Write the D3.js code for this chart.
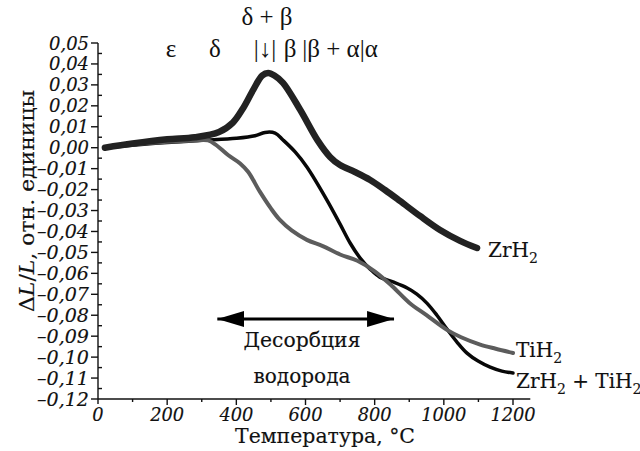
<!DOCTYPE html>
<html>
<head>
<meta charset="utf-8">
<script src="https://cdn.jsdelivr.net/npm/d3@7"></script>
<style>
  body { margin: 0; background: #fff; }
  svg { display: block; }
  text { font-family: "DejaVu Serif", serif; fill: #111; stroke: #111; stroke-width: 0.15px; }
  .tick-label { font-style: italic; font-size: 18.5px; }
  .greek { font-family: "Liberation Serif", serif; font-size: 25px; stroke-width: 0; }
</style>
</head>
<body>
<div id="chart"></div>
<script>
// Values (temperature, deg C -> dL/L).
var zrT   = [20, 100, 200, 280, 350, 390, 420, 450, 475, 492, 510, 535, 585, 635, 671, 700, 743, 787, 830, 873, 931, 989, 1047, 1096];
var zrV   = [0.000, 0.002, 0.004, 0.005, 0.0075, 0.012, 0.019, 0.028, 0.0345, 0.0357, 0.0345, 0.031, 0.018, 0.0035, -0.0044, -0.0083, -0.0116, -0.0154, -0.0202, -0.0254, -0.0326, -0.0393, -0.0445, -0.0479];

var mixT  = [20, 100, 200, 300, 400, 454, 483, 512, 535, 570, 604, 662, 700, 729, 758, 787, 815, 853, 894, 922, 951, 980, 1009, 1038, 1067, 1099, 1134, 1168, 1200];
var mixV  = [0.000, 0.0012, 0.0025, 0.0035, 0.0045, 0.0057, 0.0073, 0.007, 0.0037, -0.002, -0.0092, -0.025, -0.0365, -0.0455, -0.0527, -0.058, -0.0618, -0.0641, -0.067, -0.0699, -0.0742, -0.080, -0.0866, -0.0928, -0.0981, -0.1019, -0.1048, -0.1067, -0.1076];

var tiT   = [20, 100, 200, 280, 318, 340, 376, 411, 434, 468, 500, 526, 560, 604, 650, 700, 750, 800, 850, 900, 950, 1009, 1050, 1105, 1150, 1200];
var tiV   = [0.000, 0.0015, 0.0028, 0.0035, 0.0035, 0.0015, -0.0035, -0.0075, -0.0115, -0.021, -0.029, -0.0345, -0.0395, -0.044, -0.047, -0.051, -0.054, -0.059, -0.066, -0.074, -0.080, -0.087, -0.0905, -0.094, -0.096, -0.098];

var xTicks = [0, 200, 400, 600, 800, 1000, 1200];
var yTicks = [0.05, 0.04, 0.03, 0.02, 0.01, 0.00, -0.01, -0.02, -0.03, -0.04, -0.05, -0.06, -0.07, -0.08, -0.09, -0.10, -0.11, -0.12];

var width = 640, height = 451;

var svg = d3.select("#chart").append("svg")
    .attr("width", width)
    .attr("height", height);

// Scales: 0 deg at x=98, 1200 at x=513; 0.05 at y=43, -0.12 at y=399.
var x = d3.scaleLinear().domain([0, 1200]).range([98, 513]);
var y = d3.scaleLinear().domain([-0.12, 0.05]).range([399, 43]);

function fmt(v) {
  var s = Math.abs(v).toFixed(2).replace(".", ",");
  return (v < -1e-9 ? "\u2013" : "") + s;
}

// Axes lines
var axisG = svg.append("g").attr("stroke", "#111").attr("stroke-width", 1.4);
axisG.append("line")
    .attr("x1", x(0)).attr("x2", x(0))
    .attr("y1", y(0.05)).attr("y2", y(-0.12) + 5);
axisG.append("line")
    .attr("x1", x(0)).attr("x2", x(1250))
    .attr("y1", y(-0.12)).attr("y2", y(-0.12));

// y ticks: labelled ones to the left, half steps to the right
yTicks.forEach(function (v) {
  axisG.append("line")
      .attr("x1", x(0) - 7).attr("x2", x(0))
      .attr("y1", y(v)).attr("y2", y(v));
  if (v > -0.12) {
    axisG.append("line")
        .attr("x1", x(0)).attr("x2", x(0) + 4)
        .attr("y1", y(v - 0.005)).attr("y2", y(v - 0.005));
  }
});

// x ticks: major every 200, minor every 100, pointing down
d3.range(100, 1300, 100).forEach(function (t) {
  var major = t % 200 === 0;
  axisG.append("line")
      .attr("x1", x(t)).attr("x2", x(t))
      .attr("y1", y(-0.12)).attr("y2", y(-0.12) + (major ? 6 : 3));
});

// Tick labels
svg.append("g").selectAll("text")
  .data(yTicks)
  .enter().append("text")
    .attr("class", "tick-label")
    .attr("x", x(0) - 9)
    .attr("y", function (d) { return y(d) + 6.5; })
    .attr("text-anchor", "end")
    .attr("textLength", function (d) { return d < -1e-9 ? 52 : 40; })
    .attr("lengthAdjust", "spacingAndGlyphs")
    .text(fmt);

svg.append("g").selectAll("text")
  .data(xTicks)
  .enter().append("text")
    .attr("class", "tick-label")
    .attr("x", function (d) { return x(d); })
    .attr("y", 421)
    .attr("text-anchor", "middle")
    .attr("textLength", function (d) { return String(d).length * 11.3; })
    .attr("lengthAdjust", "spacingAndGlyphs")
    .text(function (d) { return d; });

// Axis titles
svg.append("text")
    .attr("x", 325).attr("y", 443)
    .attr("text-anchor", "middle")
    .attr("textLength", 180)
    .attr("lengthAdjust", "spacingAndGlyphs")
    .style("font-size", "20.5px")
    .text("Температура, °C");

var yTitle = svg.append("text")
    .attr("transform", "translate(34,312) rotate(-90)")
    .attr("textLength", 222)
    .attr("lengthAdjust", "spacingAndGlyphs")
    .style("font-size", "20px");
yTitle.append("tspan").text("Δ");
yTitle.append("tspan").style("font-style", "italic").text("L");
yTitle.append("tspan").text("/");
yTitle.append("tspan").style("font-style", "italic").text("L");
yTitle.append("tspan").text(", отн. единицы");

// Curves
var line = d3.line()
    .x(function (d) { return x(d[0]); })
    .y(function (d) { return y(d[1]); })
    .curve(d3.curveCatmullRom.alpha(0.5));

function pairs(ts, vs) { return ts.map(function (t, i) { return [t, vs[i]]; }); }

svg.append("path")
    .attr("d", line(pairs(mixT, mixV)))
    .attr("fill", "none").attr("stroke", "#080808")
    .attr("stroke-width", 3.5).attr("stroke-linecap", "round");

svg.append("path")
    .attr("d", line(pairs(tiT, tiV)))
    .attr("fill", "none").attr("stroke", "#5c5c5c")
    .attr("stroke-width", 4).attr("stroke-linecap", "round");

svg.append("path")
    .attr("d", line(pairs(zrT, zrV)))
    .attr("fill", "none").attr("stroke", "#222")
    .attr("stroke-width", 6.5).attr("stroke-linecap", "round");

// Curve labels with subscripts
function formula(g, xPos, yPos, parts) {
  var t = g.append("text").attr("x", xPos).attr("y", yPos).style("font-size", "20px");
  var shift = 0;
  parts.forEach(function (p) {
    var ts = t.append("tspan").text(p.s);
    if (p.sub) {
      ts.attr("dy", 6).style("font-size", "14px");
      shift = 6;
    } else if (shift) {
      ts.attr("dy", -shift);
      shift = 0;
    }
  });
}
formula(svg, 488, 257, [{s: "ZrH"}, {s: "2", sub: true}]);
formula(svg, 516, 357, [{s: "TiH"}, {s: "2", sub: true}]);
formula(svg, 516, 388, [{s: "ZrH"}, {s: "2", sub: true}, {s: " + TiH"}, {s: "2", sub: true}]);

// Phase labels along the top
var phases = [
  {s: "ε", x: 171, y: 57},
  {s: "δ", x: 215, y: 57},
  {s: "|↓|", x: 265, y: 57},
  {s: "β", x: 290, y: 57},
  {s: "|β + α|α", x: 340, y: 57},
  {s: "δ + β", x: 267, y: 25}
];
svg.append("g").selectAll("text")
  .data(phases)
  .enter().append("text")
    .attr("class", "greek")
    .attr("x", function (d) { return d.x; })
    .attr("y", function (d) { return d.y; })
    .attr("text-anchor", "middle")
    .text(function (d) { return d.s; });

// Desorption arrow
var defs = svg.append("defs");
defs.append("marker")
    .attr("id", "head")
    .attr("viewBox", "0 0 27 16")
    .attr("refX", 27).attr("refY", 8)
    .attr("markerWidth", 27).attr("markerHeight", 16)
    .attr("markerUnits", "userSpaceOnUse")
    .attr("orient", "auto-start-reverse")
  .append("path")
    .attr("d", "M0,0L27,8L0,16Z")
    .attr("fill", "#000");

svg.append("line")
    .attr("x1", x(345)).attr("x2", x(856))
    .attr("y1", 319).attr("y2", 319)
    .attr("stroke", "#000").attr("stroke-width", 3)
    .attr("marker-start", "url(#head)")
    .attr("marker-end", "url(#head)");

svg.append("text")
    .attr("x", 302).attr("y", 347)
    .attr("text-anchor", "middle")
    .attr("textLength", 117)
    .attr("lengthAdjust", "spacingAndGlyphs")
    .style("font-size", "20.5px")
    .text("Десорбция");
svg.append("text")
    .attr("x", 302).attr("y", 383)
    .attr("text-anchor", "middle")
    .attr("textLength", 97)
    .attr("lengthAdjust", "spacingAndGlyphs")
    .style("font-size", "20.5px")
    .text("водорода");
</script>
</body>
</html>
